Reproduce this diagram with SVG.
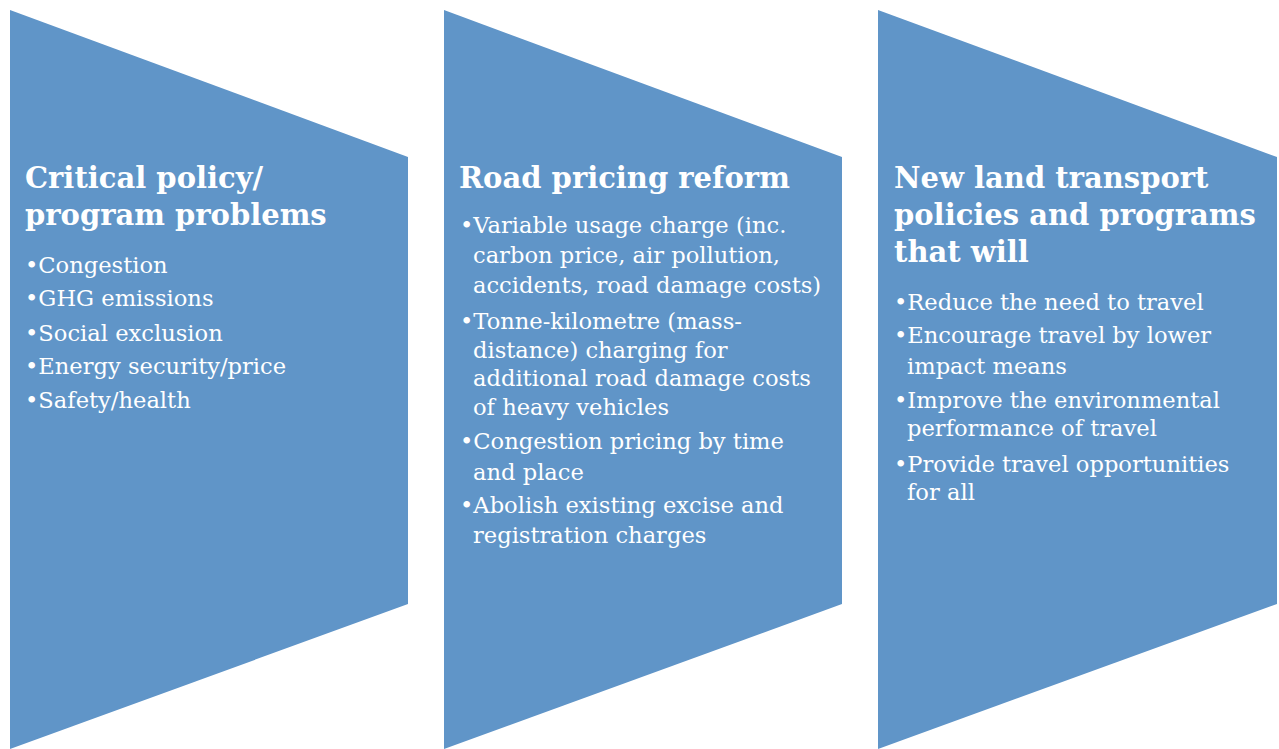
<svg xmlns="http://www.w3.org/2000/svg" width="1279" height="749" viewBox="0 0 1279 749">
<style>
.shape{fill:#6095C8;}
.t{font-family:"DejaVu Serif","Liberation Serif",serif;font-weight:bold;font-size:29px;fill:#ffffff;}
.b{font-family:"DejaVu Serif","Liberation Serif",serif;font-size:22.6px;fill:#ffffff;}
</style>
<rect width="1279" height="749" fill="#ffffff"/>
<g id="node1">
<polygon class="shape" points="10,10 408,157 408,604 10,749"/>
<text class="t" x="25" y="188">Critical policy/</text>
<text class="t" x="25" y="225">program problems</text>
<text class="b" x="25" y="273">•Congestion</text>
<text class="b" x="25" y="306">•GHG emissions</text>
<text class="b" x="25" y="341">•Social exclusion</text>
<text class="b" x="25" y="374">•Energy security/price</text>
<text class="b" x="25" y="408">•Safety/health</text>
</g>
<g id="node2">
<polygon class="shape" points="444,10 842,157 842,604 444,749"/>
<text class="t" x="459" y="188">Road pricing reform</text>
<text class="b" x="460" y="233">•Variable usage charge (inc.</text>
<text class="b" x="473" y="263">carbon price, air pollution,</text>
<text class="b" x="473" y="293">accidents, road damage costs)</text>
<text class="b" x="460" y="329">•Tonne-kilometre (mass-</text>
<text class="b" x="473" y="358">distance) charging for</text>
<text class="b" x="473" y="386">additional road damage costs</text>
<text class="b" x="473" y="415">of heavy vehicles</text>
<text class="b" x="460" y="449">•Congestion pricing by time</text>
<text class="b" x="473" y="480">and place</text>
<text class="b" x="460" y="513">•Abolish existing excise and</text>
<text class="b" x="473" y="543">registration charges</text>
</g>
<g id="node3">
<polygon class="shape" points="878,10 1277,157 1277,604 878,749"/>
<text class="t" x="894" y="188">New land transport</text>
<text class="t" x="894" y="225">policies and programs</text>
<text class="t" x="894" y="262">that will</text>
<text class="b" x="894" y="310">•Reduce the need to travel</text>
<text class="b" x="894" y="343">•Encourage travel by lower</text>
<text class="b" x="907" y="374">impact means</text>
<text class="b" x="894" y="408">•Improve the environmental</text>
<text class="b" x="907" y="436">performance of travel</text>
<text class="b" x="894" y="472">•Provide travel opportunities</text>
<text class="b" x="907" y="500">for all</text>
</g>
<g id="connectors"></g>
</svg>
